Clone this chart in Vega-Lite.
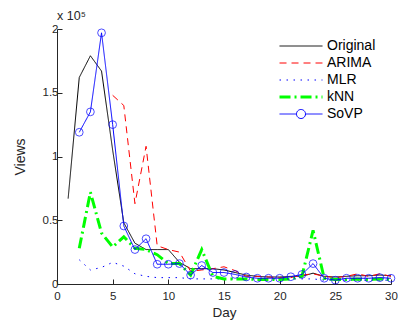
{
  "$schema": "https://vega.github.io/schema/vega-lite/v6.json",
  "width": 334,
  "height": 255,
  "autosize": {"type": "none"},
  "padding": {"left": 57, "top": 29, "right": 7, "bottom": 38},
  "background": "white",
  "config": {"view": {"stroke": null}, "font": "Liberation Sans"},
  "title": {"text": "x 10⁵", "anchor": "start", "frame": "group", "fontSize": 12.5, "fontWeight": "normal", "color": "#262626", "offset": 1},
  "data": {"values": [
    {"day": 1, "Original": 67000, "ARIMA": null, "MLR": null, "kNN": null, "SoVP": null},
    {"day": 2, "Original": 162000, "ARIMA": null, "MLR": 19000, "kNN": 28000, "SoVP": 119000},
    {"day": 3, "Original": 179000, "ARIMA": null, "MLR": 11000, "kNN": 72000, "SoVP": 135000},
    {"day": 4, "Original": 167000, "ARIMA": null, "MLR": 13000, "kNN": 40000, "SoVP": 197000},
    {"day": 5, "Original": 105000, "ARIMA": 148000, "MLR": 17000, "kNN": 29000, "SoVP": 125000},
    {"day": 6, "Original": 48000, "ARIMA": 140000, "MLR": 14000, "kNN": 37000, "SoVP": 45500},
    {"day": 7, "Original": 32000, "ARIMA": 63000, "MLR": 8000, "kNN": 28000, "SoVP": 27000},
    {"day": 8, "Original": 27000, "ARIMA": 108000, "MLR": 6000, "kNN": 27000, "SoVP": 35500},
    {"day": 9, "Original": 27000, "ARIMA": 30000, "MLR": 5000, "kNN": 23000, "SoVP": 15500},
    {"day": 10, "Original": 27000, "ARIMA": 27000, "MLR": 5000, "kNN": 16000, "SoVP": 15500},
    {"day": 11, "Original": 17000, "ARIMA": 25000, "MLR": 5000, "kNN": 16000, "SoVP": 16000},
    {"day": 12, "Original": 12000, "ARIMA": 10000, "MLR": 4000, "kNN": 7000, "SoVP": 7000},
    {"day": 13, "Original": 12000, "ARIMA": 11000, "MLR": 4000, "kNN": 27000, "SoVP": 14500},
    {"day": 14, "Original": 12000, "ARIMA": 12000, "MLR": 4000, "kNN": 6000, "SoVP": 9000},
    {"day": 15, "Original": 11000, "ARIMA": 13500, "MLR": 4000, "kNN": 4000, "SoVP": 9000},
    {"day": 16, "Original": 9000, "ARIMA": 10500, "MLR": 4000, "kNN": 4000, "SoVP": 7500},
    {"day": 17, "Original": 7000, "ARIMA": 6000, "MLR": 4000, "kNN": 4000, "SoVP": 5500},
    {"day": 18, "Original": 6000, "ARIMA": 6000, "MLR": 4000, "kNN": 3500, "SoVP": 4500},
    {"day": 19, "Original": 5500, "ARIMA": 5500, "MLR": 4000, "kNN": 3500, "SoVP": 4500},
    {"day": 20, "Original": 5500, "ARIMA": 5000, "MLR": 4000, "kNN": 3500, "SoVP": 4500},
    {"day": 21, "Original": 6000, "ARIMA": 5000, "MLR": 4000, "kNN": 4000, "SoVP": 5700},
    {"day": 22, "Original": 6000, "ARIMA": 7000, "MLR": 4000, "kNN": 6000, "SoVP": 7500},
    {"day": 23, "Original": 8500, "ARIMA": 8000, "MLR": 4000, "kNN": 42000, "SoVP": 16000},
    {"day": 24, "Original": 6000, "ARIMA": 6000, "MLR": 3000, "kNN": 4500, "SoVP": 4500},
    {"day": 25, "Original": 5500, "ARIMA": 5000, "MLR": 3000, "kNN": 3500, "SoVP": 3000},
    {"day": 26, "Original": 6000, "ARIMA": 6000, "MLR": 3000, "kNN": 3500, "SoVP": 4500},
    {"day": 27, "Original": 6500, "ARIMA": 8000, "MLR": 3000, "kNN": 4000, "SoVP": 4500},
    {"day": 28, "Original": 6500, "ARIMA": 6000, "MLR": 3000, "kNN": 3500, "SoVP": 4500},
    {"day": 29, "Original": 7000, "ARIMA": 8000, "MLR": 3000, "kNN": 4000, "SoVP": 5000},
    {"day": 30, "Original": 6500, "ARIMA": 6000, "MLR": 3000, "kNN": 3500, "SoVP": 4500}
  ]},
  "transform": [{"fold": ["Original", "ARIMA", "MLR", "kNN", "SoVP"], "as": ["series", "views"]}],
  "layer": [
    {
      "mark": {"type": "line", "clip": true},
      "encoding": {
        "x": {"field": "day", "type": "quantitative",
          "scale": {"domain": [0, 30], "nice": false},
          "axis": {"values": [0, 5, 10, 15, 20, 25, 30], "title": "Day", "grid": false, "tickSize": -5, "labelPadding": 11, "labelFontSize": 11.5, "labelColor": "#262626", "titleFontSize": 13.5, "titleFontWeight": "normal", "titleColor": "#262626", "titlePadding": 4, "domainColor": "#262626", "tickColor": "#262626", "labelFlush": false}},
        "y": {"field": "views", "type": "quantitative",
          "scale": {"domain": [0, 200000], "nice": false},
          "axis": {"values": [0, 50000, 100000, 150000, 200000], "labelExpr": "datum.value / 100000", "title": "Views", "grid": false, "tickSize": -5, "labelPadding": 4, "labelFontSize": 11.5, "labelColor": "#262626", "titleFontSize": 14, "titleFontWeight": "normal", "titleColor": "#262626", "titlePadding": 15, "domainColor": "#262626", "tickColor": "#262626", "labelFlush": false}},
        "color": {"field": "series", "type": "nominal",
          "scale": {"domain": ["Original", "ARIMA", "MLR", "kNN", "SoVP"], "range": ["#000000", "#ff0000", "#0000ff", "#00ff00", "#0000ff"]},
          "legend": {"title": null, "orient": "none", "legendX": 237, "legendY": 10, "labelFontSize": 14, "labelColor": "#000000", "symbolType": "M-3,0L3,0", "symbolSize": 205, "labelOffset": 19, "rowPadding": 3,
            "encode": {"symbols": {"update": {"shape": {"signal": "datum.value === 'SoVP' ? 'M-3,0L-0.63,0M0.63,0L3,0M0.63,0A0.63,0.63,0,1,1,-0.63,0A0.63,0.63,0,1,1,0.63,0' : 'M-3,0L3,0'"}, "strokeWidth": {"signal": "datum.value === 'kNN' ? 3 : 1"}, "fill": {"value": "transparent"}}}}}},
        "strokeDash": {"field": "series", "type": "nominal",
          "scale": {"domain": ["Original", "ARIMA", "MLR", "kNN", "SoVP"], "range": [[1, 0], [7, 5], [1.5, 5.5], [11, 4, 2, 4], [1, 0]]}},
        "strokeWidth": {"condition": {"test": "datum.series === 'kNN'", "value": 3}, "value": 1}
      }
    },
    {
      "transform": [{"filter": "datum.series === 'SoVP' && datum.views != null"}],
      "mark": {"type": "point", "shape": "circle", "filled": false, "color": "#0000ff", "size": 60, "strokeWidth": 1},
      "encoding": {
        "x": {"field": "day", "type": "quantitative"},
        "y": {"field": "views", "type": "quantitative"}
      }
    }
  ]
}
